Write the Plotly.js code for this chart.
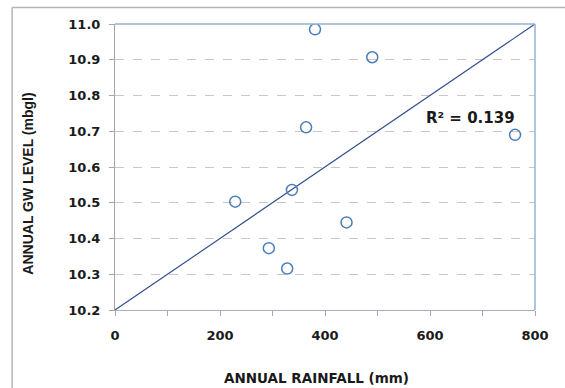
<!DOCTYPE html>
<html>
<head>
<meta charset="utf-8">
<script src="https://cdn.plot.ly/plotly-3.0.1.min.js"></script>
<style>html,body{margin:0;padding:0;background:#fff;}#chart{width:565px;height:388px;}</style>
</head>
<body>
<div id="chart"></div>
<script>
// Observed data: annual rainfall (mm) vs annual groundwater level (mbgl)
var rainfall = [381, 490, 364, 762, 337, 229, 293, 441, 328];
var gwLevel  = [10.985, 10.907, 10.711, 10.690, 10.536, 10.503, 10.373, 10.445, 10.316];
// Reference line drawn on the chart
var lineX = [0, 800];
var lineY = [10.2, 11.0];
var xTickVals = [0, 200, 400, 600, 800];
var yTickVals = [10.2, 10.3, 10.4, 10.5, 10.6, 10.7, 10.8, 10.9, 11.0];
var r2Label = "R² = 0.139";
var xTitle = "ANNUAL RAINFALL (mm)";
var yTitle = "ANNUAL GW LEVEL (mbgl)";

var tickFont = {family: "DejaVu Sans", size: 13, color: "#1a1a1a", weight: "bold"};

var traces = [
  {
    x: lineX, y: lineY, type: "scatter", mode: "lines",
    line: {color: "#34508c", width: 1.2}, hoverinfo: "skip", showlegend: false
  },
  {
    x: rainfall, y: gwLevel, type: "scatter", mode: "markers",
    marker: {symbol: "circle-open", size: 11, color: "#4a7ebb", line: {width: 1.5, color: "#4a7ebb"}},
    showlegend: false
  }
];

var layout = {
  width: 565, height: 388,
  margin: {l: 115, r: 30, t: 24, b: 78, pad: 0},
  paper_bgcolor: "#ffffff", plot_bgcolor: "#ffffff",
  showlegend: false,
  xaxis: {
    range: [0, 800], tickvals: xTickVals, ticktext: xTickVals.map(String),
    showgrid: false, zeroline: false,
    showline: true, linecolor: "#a3b1c6", linewidth: 1,
    ticks: "outside", ticklen: 5, tickcolor: "#a6a6a6", tickwidth: 1,
    minor: {dtick: 100, tick0: 0, ticks: "outside", ticklen: 5, tickcolor: "#a6a6a6", showgrid: false},
    tickfont: tickFont, ticklabelstandoff: 8
  },
  yaxis: {
    range: [10.2, 11.0], tickvals: yTickVals, ticktext: yTickVals.map(function(v){return v.toFixed(1);}),
    showgrid: true, gridcolor: "#c8c8c8", griddash: "dash", gridwidth: 1,
    zeroline: false,
    showline: true, linecolor: "#a6a6a6", linewidth: 1,
    ticks: "outside", ticklen: 5, tickcolor: "#a6a6a6", tickwidth: 1,
    tickfont: tickFont, ticklabelstandoff: 6
  },
  shapes: [
    // plot area top and right border (light blue)
    {type: "line", xref: "paper", yref: "paper", x0: 0, x1: 1, y0: 1, y1: 1, line: {color: "#95b3d7", width: 1.5}},
    {type: "line", xref: "paper", yref: "paper", x0: 1, x1: 1, y0: 0, y1: 1, line: {color: "#95b3d7", width: 1.5}},
    // outer chart frame (top and left)
    {type: "line", xref: "paper", yref: "paper", x0: -0.245, x1: 1.2, y0: 1.0577, y1: 1.0577, line: {color: "#b4b4b4", width: 1.5}},
    {type: "line", xref: "paper", yref: "paper", x0: -0.245, x1: -0.245, y0: -0.3, y1: 1.0577, line: {color: "#b4b4b4", width: 1.5}}
  ],
  annotations: [
    {text: r2Label, xref: "x", yref: "y", x: 678, y: 10.737, showarrow: false,
     xanchor: "center", yanchor: "middle",
     font: {family: "DejaVu Sans", size: 15, color: "#1a1a1a", weight: "bold"}},
    {text: xTitle, xref: "paper", yref: "paper", x: 0.4786, y: -0.238, showarrow: false,
     xanchor: "center", yanchor: "middle",
     font: {family: "DejaVu Sans", size: 13.5, color: "#1a1a1a", weight: "bold"}},
    {text: yTitle, xref: "paper", yref: "paper", x: -0.207, y: 0.442, showarrow: false,
     textangle: -90, xanchor: "center", yanchor: "middle",
     font: {family: "Liberation Sans", size: 14, color: "#1a1a1a", weight: "bold"}}
  ]
};

Plotly.newPlot("chart", traces, layout, {displayModeBar: false, staticPlot: true});
</script>
</body>
</html>
